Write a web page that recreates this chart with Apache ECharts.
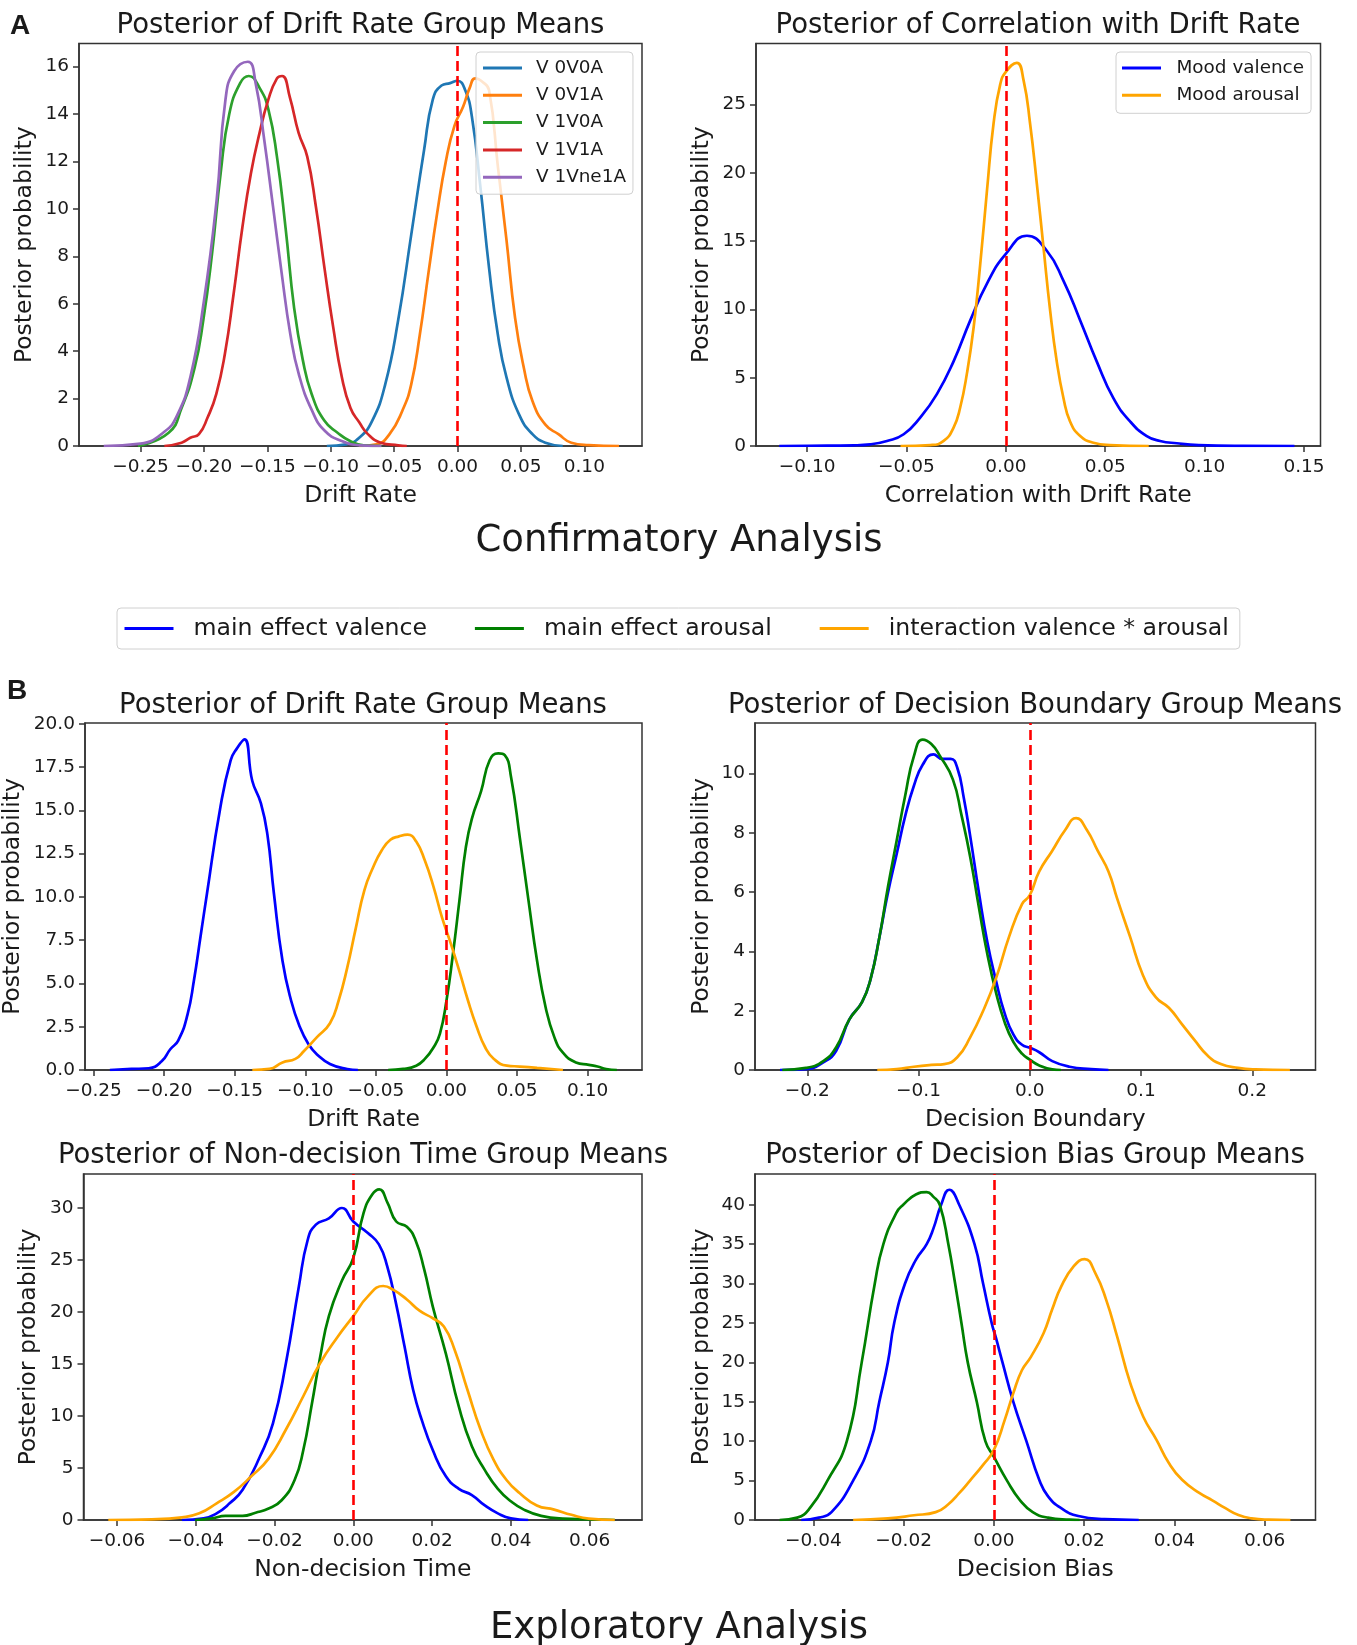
<!DOCTYPE html>
<html lang="en">
<head>
<meta charset="UTF-8">
<title>Posterior distributions</title>
<script src="https://cdn.jsdelivr.net/npm/echarts@6/dist/echarts.min.js"></script>
<style>html,body{margin:0;padding:0;background:#fff}</style>
</head>
<body>
<div id="main" style="width:1357px;height:1645px"></div>
<script>
// ---- values: [x, density] ----

// A, drift rate group means
var a1_v0v0a = [[-0.1031,0],[-0.0878,0.07],[-0.0775,0.35],[-0.0673,1.06],[-0.057,2.6],[-0.0468,5.3],[-0.0365,8.9],[-0.0263,12.5],[-0.0195,14.6],[-0.0126,15.2],[-0.0058,15.3],[0,15.4],[0.0061,15.0],[0.0113,13.9],[0.0181,10.9],[0.0249,7.5],[0.0318,4.7],[0.0386,2.9],[0.0488,1.3],[0.0591,0.5],[0.0693,0.14],[0.083,0]];
var a1_v0v1a = [[-0.0775,0],[-0.0639,0.07],[-0.0536,0.5],[-0.0434,1.5],[-0.0365,2.6],[-0.0297,4.7],[-0.0229,7.3],[-0.0161,9.8],[-0.0092,12.0],[-0.0024,13.5],[0.0044,14.3],[0.0096,15.1],[0.014,15.5],[0.0198,15.35],[0.0249,15.0],[0.0318,11.8],[0.0386,8.7],[0.0454,5.4],[0.0523,3.3],[0.0591,1.9],[0.0693,0.9],[0.0796,0.5],[0.0898,0.14],[0.1035,0.04],[0.1274,0]];
var a1_v1v0a = [[-0.252,0],[-0.2278,0.56],[-0.2176,1.6],[-0.2073,3.3],[-0.2005,5.3],[-0.1936,8.1],[-0.1868,11.5],[-0.18,14.0],[-0.1714,15.3],[-0.1646,15.6],[-0.1561,15.1],[-0.1492,14.2],[-0.1424,12.2],[-0.1356,9.2],[-0.1288,5.8],[-0.1219,3.6],[-0.1151,2.2],[-0.1049,1.06],[-0.0946,0.56],[-0.0844,0.2],[-0.0741,0.03],[-0.06,0]];
var a1_v1v1a = [[-0.2312,0],[-0.2176,0.14],[-0.2107,0.35],[-0.2039,0.5],[-0.1971,1.2],[-0.1902,2.2],[-0.1834,3.9],[-0.1766,6.4],[-0.1697,9.2],[-0.1629,11.5],[-0.1561,13.2],[-0.1492,14.6],[-0.1424,15.5],[-0.1383,15.6],[-0.1322,14.7],[-0.1253,13.2],[-0.1185,12.2],[-0.1117,10.1],[-0.1049,7.5],[-0.098,5.0],[-0.0912,2.9],[-0.0844,1.6],[-0.0775,1.0],[-0.0707,0.5],[-0.0605,0.14],[-0.0468,0.03],[-0.04,0]];
var a1_v1vne1a = [[-0.279,0],[-0.25,0.1],[-0.2312,0.6],[-0.221,1.3],[-0.2107,2.9],[-0.2,6.1],[-0.1899,10.4],[-0.183,14.6],[-0.1762,15.8],[-0.1653,16.2],[-0.1592,15.3],[-0.1524,12.9],[-0.1455,10.1],[-0.1387,7.3],[-0.1318,4.7],[-0.125,3.0],[-0.1148,1.5],[-0.1045,0.63],[-0.0908,0.2],[-0.0772,0.03],[-0.06,0]];

// A, correlation with drift rate
var a2_valence = [[-0.114,0],[-0.0993,0.02],[-0.0765,0.05],[-0.0682,0.12],[-0.0598,0.37],[-0.0514,0.86],[-0.043,2.1],[-0.0347,3.8],[-0.0263,6.2],[-0.0179,9.2],[-0.0095,11.9],[0,14.07],[0.0106,15.4],[0.0206,14.3],[0.029,12.1],[0.0374,9.2],[0.0457,6.2],[0.0541,3.5],[0.0625,1.8],[0.0709,0.73],[0.0776,0.37],[0.086,0.2],[0.097,0.07],[0.119,0.01],[0.1452,0]];
var a2_arousal = [[-0.053,0],[-0.038,0.07],[-0.0313,0.37],[-0.0263,1.35],[-0.023,2.8],[-0.0196,5.3],[-0.0162,8.7],[-0.0129,13.3],[-0.0095,18.7],[-0.0062,23.6],[-0.0028,26.5],[0,27.4],[0.0055,28.06],[0.0089,26.8],[0.0122,23.6],[0.0156,19.2],[0.0189,14.6],[0.0223,9.9],[0.0256,6.2],[0.029,3.5],[0.0323,1.8],[0.0374,0.73],[0.0441,0.24],[0.0524,0.07],[0.0719,0]];

// B, drift rate
var b1_valence = [[-0.2384,0],[-0.2231,0.06],[-0.2109,0.1],[-0.2017,0.5],[-0.1956,1.2],[-0.19,1.7],[-0.1834,3.2],[-0.1788,5.2],[-0.1742,7.7],[-0.1696,10.2],[-0.1605,15.0],[-0.1528,17.9],[-0.1482,18.6],[-0.1431,19.1],[-0.1375,16.7],[-0.1314,15.4],[-0.1268,13.6],[-0.1222,10.2],[-0.1161,6.3],[-0.11,4.0],[-0.1039,2.5],[-0.0978,1.5],[-0.0917,0.9],[-0.0825,0.35],[-0.0703,0.06],[-0.0627,0]];
var b1_arousal = [[-0.0413,0],[-0.0306,0.06],[-0.0214,0.25],[-0.0153,0.64],[-0.0092,1.3],[-0.0046,2.1],[0,4.0],[0.0046,6.7],[0.0092,9.8],[0.0138,12.9],[0.0183,14.6],[0.0245,16.1],[0.0306,17.9],[0.0367,18.3],[0.0413,18.2],[0.0458,16.9],[0.052,13.4],[0.0581,9.8],[0.0642,6.3],[0.0703,3.6],[0.0764,1.9],[0.0825,1.0],[0.0917,0.44],[0.1009,0.3],[0.107,0.2],[0.1131,0.06],[0.1207,0]];
var b1_interaction = [[-0.1375,0],[-0.1253,0.06],[-0.1161,0.44],[-0.107,0.64],[-0.1009,1.1],[-0.0917,1.9],[-0.0825,2.7],[-0.0764,4.0],[-0.0703,5.9],[-0.0642,8.2],[-0.0581,10.4],[-0.052,11.7],[-0.0458,12.7],[-0.0397,13.3],[-0.0336,13.5],[-0.0275,13.6],[-0.0214,13.2],[-0.0153,12.1],[-0.0092,10.6],[-0.0031,8.8],[0.0031,7.3],[0.0092,5.7],[0.0153,4.0],[0.0214,2.5],[0.0275,1.3],[0.0336,0.64],[0.0428,0.25],[0.052,0.2],[0.0642,0.12],[0.0825,0]];

// B, decision boundary
var b2_valence = [[-0.2245,0],[-0.2012,0.03],[-0.1856,0.26],[-0.174,0.65],[-0.1623,1.7],[-0.1507,2.3],[-0.1429,3.1],[-0.1351,4.5],[-0.1274,6.0],[-0.1196,7.3],[-0.1118,8.6],[-0.1041,9.6],[-0.0963,10.3],[-0.0866,10.65],[-0.0788,10.5],[-0.0711,10.5],[-0.0652,10.2],[-0.0594,9.2],[-0.0536,7.9],[-0.0458,6.0],[-0.0381,4.3],[-0.0303,3.0],[-0.0225,1.9],[-0.0148,1.2],[-0.007,0.85],[0,0.75],[0.0085,0.6],[0.0202,0.3],[0.0357,0.11],[0.0551,0.03],[0.0707,0]];
var b2_arousal = [[-0.2225,0],[-0.2012,0.07],[-0.1856,0.3],[-0.174,0.77],[-0.1623,1.7],[-0.1507,2.3],[-0.1429,3.1],[-0.1351,4.5],[-0.1274,6.2],[-0.1196,7.75],[-0.1118,9.3],[-0.1041,10.6],[-0.0963,11.15],[-0.0885,11.0],[-0.0808,10.6],[-0.0691,9.8],[-0.0614,8.6],[-0.0536,7.2],[-0.0458,5.5],[-0.0381,3.9],[-0.0303,2.6],[-0.0225,1.6],[-0.0148,0.95],[-0.007,0.55],[0,0.35],[0.0085,0.15],[0.0202,0.02],[0.028,0]];
var b2_interaction = [[-0.1371,0],[-0.1196,0.03],[-0.1041,0.11],[-0.0885,0.17],[-0.0769,0.2],[-0.0652,0.43],[-0.0536,1.1],[-0.0419,2.0],[-0.0303,3.1],[-0.0186,4.5],[-0.007,5.6],[0,5.9],[0.0085,6.7],[0.0202,7.4],[0.0318,8.1],[0.0416,8.5],[0.0513,8.1],[0.061,7.4],[0.0707,6.7],[0.0784,5.8],[0.0901,4.5],[0.1017,3.2],[0.1134,2.45],[0.125,2.1],[0.1367,1.55],[0.1483,1.0],[0.16,0.48],[0.1717,0.2],[0.1872,0.07],[0.2027,0.02],[0.2338,0]];

// B, non-decision time
var b3_valence = [[-0.0435,0],[-0.038,0.16],[-0.0347,0.64],[-0.0314,1.6],[-0.0281,2.9],[-0.0237,6.1],[-0.0204,9.3],[-0.0171,15.1],[-0.0138,22.5],[-0.0116,26.9],[-0.0095,28.4],[-0.0062,29.0],[-0.0029,30.0],[0,28.7],[0.0037,27.6],[0.0065,26.5],[0.0086,24.4],[0.0108,20.9],[0.013,16.7],[0.0152,12.5],[0.0174,9.6],[0.0202,6.7],[0.0235,4.2],[0.0268,3.0],[0.0301,2.4],[0.0334,1.4],[0.0367,0.64],[0.04,0.16],[0.0444,0]];
var b3_arousal = [[-0.0402,0],[-0.0358,0.16],[-0.0325,0.4],[-0.0281,0.4],[-0.0248,0.7],[-0.0215,1.1],[-0.0182,1.9],[-0.0149,3.85],[-0.0127,6.7],[-0.0105,11.2],[-0.0084,15.7],[-0.0062,19.6],[-0.0029,23.0],[0,25.2],[0.0026,29.5],[0.0048,31.3],[0.0066,31.8],[0.0087,30.5],[0.0109,28.7],[0.0136,28.2],[0.0158,26.9],[0.018,24.1],[0.0202,20.5],[0.0235,16.0],[0.0268,10.9],[0.0301,7.1],[0.0334,4.8],[0.0367,3.0],[0.04,1.8],[0.0433,1.0],[0.0477,0.4],[0.0532,0.13],[0.0598,0.06],[0.0664,0]];
var b3_interaction = [[-0.0622,0],[-0.0512,0.06],[-0.0435,0.26],[-0.0391,0.64],[-0.0347,1.6],[-0.0303,2.7],[-0.0259,4.2],[-0.0215,5.9],[-0.0171,8.7],[-0.0127,11.9],[-0.0084,15.1],[-0.004,17.6],[0,19.6],[0.0037,21.5],[0.0076,22.5],[0.0103,22.1],[0.0136,21.2],[0.0169,20.1],[0.0202,19.4],[0.023,18.6],[0.0257,16.4],[0.029,12.5],[0.0323,8.7],[0.0356,5.8],[0.0389,3.85],[0.0422,2.6],[0.0466,1.4],[0.051,1.0],[0.0554,0.5],[0.0598,0.13],[0.0664,0]];

// B, decision bias
var b4_valence = [[-0.0427,0],[-0.0388,0.3],[-0.036,1.0],[-0.0312,5.0],[-0.0273,10.0],[-0.0254,15.0],[-0.0235,20.0],[-0.0221,25.0],[-0.0197,30.0],[-0.0173,33.0],[-0.0149,35.0],[-0.0134,37.0],[-0.0117,40.0],[-0.0099,41.9],[-0.0077,40.0],[-0.0043,35.0],[-0.0024,30.0],[-0.0005,25.0],[0.0005,23.0],[0.0019,20.0],[0.0043,15.0],[0.0072,10.0],[0.0101,5.0],[0.012,3.0],[0.0149,1.5],[0.0187,0.5],[0.0245,0.1],[0.0321,0]];
var b4_arousal = [[-0.0475,0],[-0.0436,0.3],[-0.0408,1.5],[-0.0369,5.0],[-0.0326,10.0],[-0.0293,20.0],[-0.0264,30.0],[-0.0245,35.0],[-0.0216,39.0],[-0.0201,40.0],[-0.0173,41.3],[-0.0149,41.6],[-0.0134,41.0],[-0.012,40.0],[-0.0101,35.0],[-0.0086,30.0],[-0.0072,25.0],[-0.0058,20.0],[-0.0038,15.0],[-0.0019,10.0],[0,8.0],[0.0029,5.0],[0.0058,2.5],[0.0086,1.0],[0.012,0.3],[0.0168,0.04],[0.019,0]];
var b4_interaction = [[-0.0312,0],[-0.0235,0.2],[-0.0177,0.6],[-0.0129,1.0],[-0.0101,2.0],[-0.0077,3.4],[-0.0053,5.0],[-0.0024,7.0],[0,8.9],[0.0024,12.7],[0.0043,16.1],[0.0062,19.0],[0.0082,20.7],[0.011,23.7],[0.0129,26.7],[0.0149,29.6],[0.0177,32.2],[0.0201,33.1],[0.0225,31.3],[0.0249,27.9],[0.0273,23.3],[0.0302,17.4],[0.0331,13.1],[0.036,10.2],[0.0388,7.2],[0.0417,5.1],[0.0456,3.4],[0.0484,2.5],[0.0513,1.5],[0.0542,0.63],[0.0571,0.2],[0.0609,0.04],[0.0657,0]];

// tick values
var a1XTicks = [-0.25, -0.2, -0.15, -0.1, -0.05, 0, 0.05, 0.1];
var a1YTicks = [0, 2, 4, 6, 8, 10, 12, 14, 16];
var a2XTicks = [-0.1, -0.05, 0, 0.05, 0.1, 0.15];
var a2YTicks = [0, 5, 10, 15, 20, 25];
var b1XTicks = [-0.25, -0.2, -0.15, -0.1, -0.05, 0, 0.05, 0.1];
var b1YTicks = [0, 2.5, 5, 7.5, 10, 12.5, 15, 17.5, 20];
var b2XTicks = [-0.2, -0.1, 0, 0.1, 0.2];
var b2YTicks = [0, 2, 4, 6, 8, 10];
var b3XTicks = [-0.06, -0.04, -0.02, 0, 0.02, 0.04, 0.06];
var b3YTicks = [0, 5, 10, 15, 20, 25, 30];
var b4XTicks = [-0.04, -0.02, 0, 0.02, 0.04, 0.06];
var b4YTicks = [0, 5, 10, 15, 20, 25, 30, 35, 40];

var groupNamesA = ['V 0V0A', 'V 0V1A', 'V 1V0A', 'V 1V1A', 'V 1Vne1A'];
var moodNames = ['Mood valence', 'Mood arousal'];
var effectNames = ['main effect valence', 'main effect arousal', 'interaction valence * arousal'];

var FONT = 'DejaVu Sans';
var INK = '#1a1a1a';
var tab10 = ['#1f77b4', '#ff7f0e', '#2ca02c', '#d62728', '#9467bd'];
var effColors = ['#0000ff', '#008000', '#ffa500'];

function fmt(d) {
    return function (v) { return v.toFixed(d).replace('-', '\u2212'); };
}

var panels = [
    {box: [79, 43.5, 563, 402.5], xr: [-0.2985, 0.1455], yr: [0, 16.97], xt: a1XTicks, yt: a1YTicks, xd: 2, yd: 0,
     xname: 'Drift Rate', ygap: 42,
     lines: [[groupNamesA[0], a1_v0v0a, tab10[0]], [groupNamesA[1], a1_v0v1a, tab10[1]], [groupNamesA[2], a1_v1v0a, tab10[2]],
             [groupNamesA[3], a1_v1v1a, tab10[3]], [groupNamesA[4], a1_v1vne1a, tab10[4]]]},
    {box: [756, 43.5, 564.5, 402.5], xr: [-0.1257, 0.1583], yr: [0, 29.48], xt: a2XTicks, yt: a2YTicks, xd: 2, yd: 0,
     xname: 'Correlation with Drift Rate', ygap: 42,
     lines: [[moodNames[0], a2_valence, '#0000ff'], [moodNames[1], a2_arousal, '#ffa500']]},
    {box: [83.5, 723, 558.5, 347], xr: [-0.256, 0.1385], yr: [0, 20.05], xt: b1XTicks, yt: b1YTicks, xd: 2, yd: 1,
     xname: 'Drift Rate', ygap: 60,
     lines: [[effectNames[0], b1_valence, effColors[0]], [effectNames[1], b1_arousal, effColors[1]], [effectNames[2], b1_interaction, effColors[2]]]},
    {box: [755, 723, 560.5, 347], xr: [-0.247, 0.2568], yr: [0, 11.71], xt: b2XTicks, yt: b2YTicks, xd: 1, yd: 0,
     xname: 'Decision Boundary', ygap: 41,
     lines: [[effectNames[0], b2_valence, effColors[0]], [effectNames[1], b2_arousal, effColors[1]], [effectNames[2], b2_interaction, effColors[2]]]},
    {box: [83.5, 1174, 558.5, 346], xr: [-0.0685, 0.0733], yr: [0, 33.27], xt: b3XTicks, yt: b3YTicks, xd: 2, yd: 0,
     xname: 'Non-decision Time', ygap: 43,
     lines: [[effectNames[0], b3_valence, effColors[0]], [effectNames[1], b3_arousal, effColors[1]], [effectNames[2], b3_interaction, effColors[2]]]},
    {box: [755, 1174, 560.5, 346], xr: [-0.05295, 0.07127], yr: [0, 43.9], xt: b4XTicks, yt: b4YTicks, xd: 2, yd: 0,
     xname: 'Decision Bias', ygap: 41,
     lines: [[effectNames[0], b4_valence, effColors[0]], [effectNames[1], b4_arousal, effColors[1]], [effectNames[2], b4_interaction, effColors[2]]]}
];

var grids = [], xAxes = [], yAxes = [], series = [];
var axisCol = '#333';

panels.forEach(function (p, i) {
    grids.push({left: p.box[0], top: p.box[1], width: p.box[2], height: p.box[3],
        show: true, borderColor: axisCol, borderWidth: 1.5, backgroundColor: 'transparent'});
    xAxes.push({
        gridIndex: i, type: 'value', min: p.xr[0], max: p.xr[1],
        name: p.xname, nameLocation: 'middle', nameGap: 38,
        nameTextStyle: {fontFamily: FONT, fontSize: 23.5, color: INK},
        axisLine: {onZero: false, lineStyle: {color: axisCol, width: 1.5}},
        axisTick: {customValues: p.xt, length: 6, lineStyle: {color: axisCol, width: 1.5}},
        axisLabel: {customValues: p.xt, formatter: fmt(p.xd), margin: 12, fontFamily: FONT, fontSize: 18.5, color: INK},
        splitLine: {show: false}
    });
    yAxes.push({
        gridIndex: i, type: 'value', min: p.yr[0], max: p.yr[1],
        name: 'Posterior probability', nameLocation: 'middle', nameRotate: 90, nameGap: p.ygap,
        nameTextStyle: {fontFamily: FONT, fontSize: 23.5, color: INK},
        axisLine: {show: true, onZero: false, lineStyle: {color: axisCol, width: 1.5}},
        axisTick: {show: true, customValues: p.yt, length: 6, lineStyle: {color: axisCol, width: 1.5}},
        axisLabel: {customValues: p.yt, formatter: fmt(p.yd), margin: 10, fontFamily: FONT, fontSize: 18.5, color: INK},
        splitLine: {show: false}
    });
    p.lines.forEach(function (l, k) {
        var s = {
            type: 'line', name: l[0], xAxisIndex: i, yAxisIndex: i, data: l[1],
            showSymbol: false, symbol: 'none', smooth: 0.5,
            lineStyle: {color: l[2], width: 2.7}, itemStyle: {color: l[2]},
            emphasis: {disabled: true}
        };
        if (k === 0) {
            s.markLine = {
                silent: true, symbol: 'none', animation: false,
                label: {show: false},
                lineStyle: {color: '#ff0000', type: [10, 5], width: 2.6},
                data: [{xAxis: 0}]
            };
        }
        series.push(s);
    });
});

function txt(s, x, y, size, weight, family) {
    return {type: 'text', x: x, y: y, silent: true,
        style: {text: s, fill: INK, fontSize: size, fontWeight: weight || 'normal', fontFamily: family || FONT,
            textAlign: 'center', textVerticalAlign: 'middle'}};
}

var legendBase = {
    icon: 'rect', itemHeight: 3, backgroundColor: 'rgba(255,255,255,0.8)',
    borderColor: '#d0d0d0', borderWidth: 1, borderRadius: 4, selectedMode: false
};

var option = {
    animation: false,
    backgroundColor: '#ffffff',
    grid: grids,
    xAxis: xAxes,
    yAxis: yAxes,
    series: series,
    legend: [
        Object.assign({}, legendBase, {
            data: groupNamesA, orient: 'vertical', left: 476, top: 52,
            padding: [6, 7, 7, 7], itemWidth: 39, itemGap: 7.3,
            textStyle: {fontFamily: FONT, fontSize: 18.4, color: INK, lineHeight: 20, padding: [0, 0, 0, 9]}
        }),
        Object.assign({}, legendBase, {
            data: moodNames, orient: 'vertical', left: 1116, top: 52,
            padding: [6, 7, 8, 6], itemWidth: 39, itemGap: 7.3,
            textStyle: {fontFamily: FONT, fontSize: 18.4, color: INK, lineHeight: 20, padding: [0, 0, 0, 10.5]}
        }),
        Object.assign({}, legendBase, {
            data: effectNames, orient: 'horizontal', left: 117, top: 608,
            padding: [7.5, 11, 7.5, 7.5], itemWidth: 49, itemGap: 48,
            textStyle: {fontFamily: FONT, fontSize: 23.6, color: INK, lineHeight: 26, padding: [0, 0, 0, 15]}
        })
    ],
    graphic: [
        txt('A', 20, 26, 28, 'bold', 'Liberation Sans'),
        txt('B', 17, 691, 28, 'bold', 'Liberation Sans'),
        txt('Posterior of Drift Rate Group Means', 360.5, 26, 27.5),
        txt('Posterior of Correlation with Drift Rate', 1038, 26, 27.5),
        txt('Confirmatory Analysis', 679, 541, 37),
        txt('Posterior of Drift Rate Group Means', 363, 706, 27.5),
        txt('Posterior of Decision Boundary Group Means', 1035, 706, 27.5),
        txt('Posterior of Non-decision Time Group Means', 363, 1156, 27.5),
        txt('Posterior of Decision Bias Group Means', 1035, 1156, 27.5),
        txt('Exploratory Analysis', 679, 1628, 37)
    ]
};

var myChart = echarts.init(document.getElementById('main'), null, {renderer: 'canvas'});
myChart.setOption(option);
</script>
</body>
</html>
